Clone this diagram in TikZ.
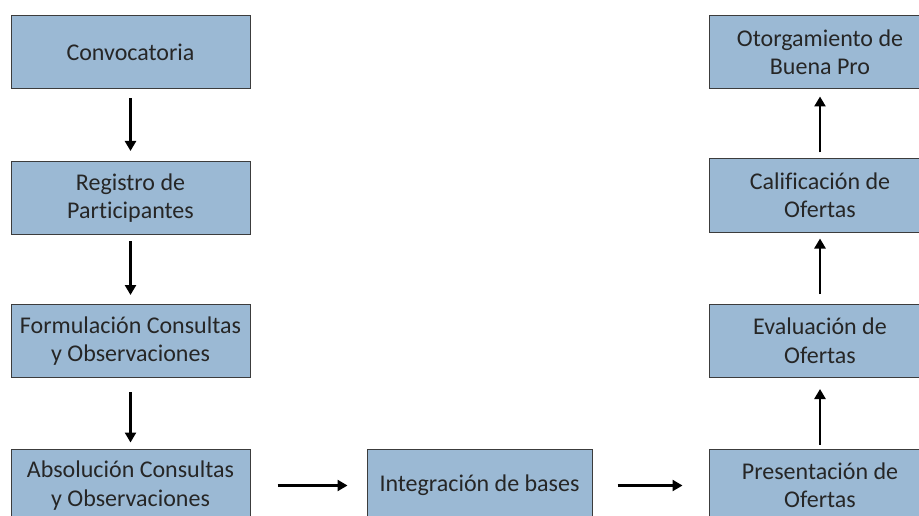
\documentclass[tikz,border=0pt]{standalone}
\usepackage{fontspec}
\setmainfont{Carlito}[Ligatures=NoCommon]
\usetikzlibrary{arrows.meta}
\definecolor{boxfill}{RGB}{155,185,212}
\definecolor{boxline}{RGB}{60,60,60}
\begin{document}
\begin{tikzpicture}[x=1pt,y=-1pt,
  stage/.style={draw=boxline,line width=1pt,fill=boxfill,rectangle,
    inner sep=0pt,align=center,font=\fontsize{24}{28.5}\selectfont,text=black!85},
  leftbox/.style={stage,minimum width=239pt,minimum height=73pt},
  rightbox/.style={stage,minimum width=222pt,minimum height=73pt},
  flow/.style={line width=2.5pt,-{Triangle[length=10pt,width=11pt]}}]
\useasboundingbox (0,0) rectangle (919,516);
\fill[white] (0,0) rectangle (919,516);
% left column, top to bottom
\node[leftbox] (conv) at (130.5,52.5) {Convocatoria};
\node[leftbox] (reg)  at (130.5,198)  {Registro de\\Participantes};
\node[leftbox] (form) at (130.5,341)  {Formulación Consultas\\y Observaciones};
\node[leftbox] (abs)  at (130.5,485.5) {Absolución Consultas\\y Observaciones};
% bottom row
\node[stage,minimum width=225pt,minimum height=73pt] (integ) at (479.5,485.5) {Integración de bases};
% right column, bottom to top
\node[rightbox] (pres) at (820,485.5) {Presentación de\\Ofertas};
\node[rightbox] (eval) at (820,341)   {Evaluación de\\Ofertas};
\node[rightbox] (cal)  at (820,195.5) {Calificación de\\Ofertas};
\node[rightbox] (otor) at (820,52.5)  {Otorgamiento de\\Buena Pro};
% connectors
\draw[flow,shorten <=9pt,shorten >=10pt] (conv) -- (reg);
\draw[flow,shorten <=6pt,shorten >=9pt]  (reg) -- (form);
\draw[flow,shorten <=14pt,shorten >=6pt] (form) -- (abs);
\draw[flow,shorten <=27pt,shorten >=19pt] (abs) -- (integ);
\draw[flow,shorten <=25pt,shorten >=26pt] (integ) -- (pres);
\draw[flow,shorten <=4pt,shorten >=11pt] (pres) -- (eval);
\draw[flow,shorten <=10pt,shorten >=6pt] (eval) -- (cal);
\draw[flow,shorten <=6pt,shorten >=7pt]  (cal) -- (otor);
\end{tikzpicture}
\end{document}
